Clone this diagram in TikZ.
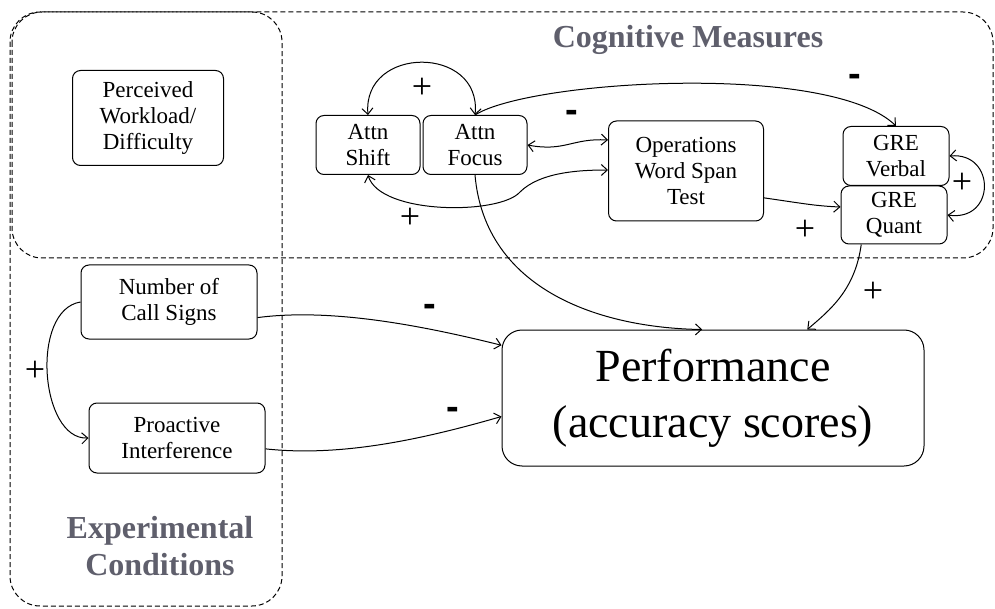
\documentclass[tikz,border=0pt]{standalone}
\usepackage{fontspec}
\setmainfont{Liberation Serif}
\usetikzlibrary{arrows.meta}

\definecolor{headgray}{RGB}{95,95,108}

\tikzset{
  box/.style={draw, rounded corners=8pt, align=center, inner sep=1pt,
    font=\fontsize{23}{26}\selectfont},
  region/.style={draw, dash pattern=on 5pt off 3pt, rounded corners=30pt},
  plus/.style={font=\fontsize{36}{36}\selectfont},
  minus/.style={font=\sffamily\bfseries\fontsize{38}{38}\selectfont},
  heading/.style={text=headgray, align=center, font=\bfseries\fontsize{32}{37}\selectfont}
}
\setsansfont{Liberation Sans}

\begin{document}
\begin{tikzpicture}[x=1pt, y=-1pt, line width=1pt,
    >={Straight Barb[length=6pt,width=11pt]}]
  \useasboundingbox (0,0) rectangle (995,609);

  % the two groups
  \draw[region] (12,12) rectangle (993,258);
  \draw[region] (10,12) rectangle (282,606);
  \node[heading] (cogtitle) at (688,40) {Cognitive Measures};
  \node[heading] (exptitle) at (160,546) {Experimental\\Conditions};

  % nodes
  \node[box, minimum width=151pt, minimum height=95pt] (workload) at (148,118) {Perceived\\Workload/\\Difficulty};
  \node[box, minimum width=104pt, minimum height=59pt] (attnshift) at (368,145) {Attn\\Shift};
  \node[box, minimum width=104pt, minimum height=59pt] (attnfocus) at (475,145) {Attn\\Focus};
  \node[box, minimum width=155pt, minimum height=100pt] (ospan) at (686,171) {Operations\\Word Span\\Test};
  \node[box, minimum width=106pt, minimum height=59pt] (greverbal) at (896,156) {GRE\\Verbal};
  \node[box, minimum width=106pt, minimum height=58pt] (grequant) at (894,215) {GRE\\Quant};
  \node[box, minimum width=176pt, minimum height=74pt] (callsigns) at (169,302) {Number of\\Call Signs};
  \node[box, minimum width=176pt, minimum height=70pt] (proactive) at (177,438) {Proactive\\Interference};
  \node[box, rounded corners=20pt, minimum width=422pt, minimum height=136pt,
    font=\fontsize{46}{56}\selectfont] (perf) at (713,398) {Performance\\(accuracy scores)};

  % links
  \draw[<->] (attnshift.north) .. controls (362,45) and (482,45) .. (attnfocus.north);
  \draw[->] (attnfocus.north) .. controls (530,80) and (830,62) .. (greverbal.north);
  \draw[<->] (attnfocus.east) .. controls (565,152) and (572,138) .. (ospan.west |- 0,140);
  \draw[<->] (attnshift.south) .. controls (380,215) and (500,215) .. (520,192)
    .. controls (540,172) and (580,170) .. (ospan.west |- 0,170);
  \draw[->] (ospan.-19) .. controls (800,203) and (815,206) .. (grequant.west |- 0,207);
  \draw[<->] (greverbal.east) .. controls (996,152) and (996,222) .. (grequant.east);
  \draw[->] (attnfocus.south) .. controls (485,290) and (600,328) .. (perf.99);
  \draw[->] (grequant.-138) .. controls (855,290) and (830,310) .. (perf.36.7);
  \draw[->] (callsigns.-10.3) .. controls (330,308) and (420,325) .. (perf.166.2);
  \draw[->] (proactive.-7.8) .. controls (340,457) and (420,440) .. (perf.185);
  \draw[->] (callsigns.west) .. controls (30,310) and (40,440) .. (proactive.west);

  % signs
  \node[plus] (p1) at (422,88) {+};
  \node[minus] (m1) at (855,80) {-};
  \node[minus] (m2) at (572,116) {-};
  \node[plus] (p2) at (410,218) {+};
  \node[plus] (p3) at (805,230) {+};
  \node[plus] (p4) at (962,183) {+};
  \node[plus] (p5) at (873,292) {+};
  \node[minus] (m3) at (430,310) {-};
  \node[minus] (m4) at (453,413) {-};
  \node[plus] (p6) at (35,371) {+};
\end{tikzpicture}
\end{document}
